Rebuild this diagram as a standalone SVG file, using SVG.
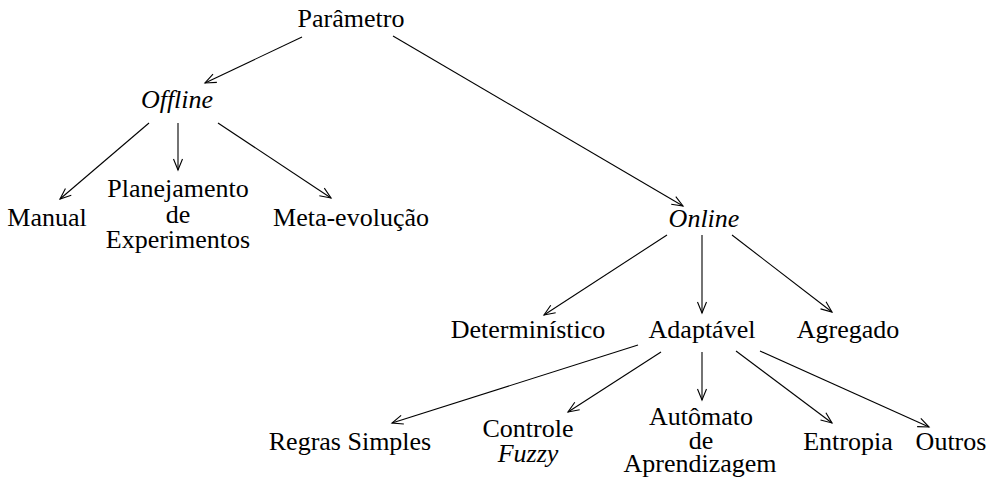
<svg xmlns="http://www.w3.org/2000/svg" width="997" height="481" viewBox="0 0 997 481">
<style>
text{font-family:"Liberation Serif","Times New Roman",serif;font-size:26px;fill:#000;text-anchor:middle}
.it{font-style:italic}
.c{stroke:#000;stroke-width:1.1;fill:none}
</style>
<defs>
<marker id="ah" markerUnits="userSpaceOnUse" markerWidth="16" markerHeight="12" viewBox="-12 -6 14 12" refX="0" refY="0" orient="auto">
<path d="M-11,-4.5 L0,0 L-11,4.5" fill="none" stroke="#000" stroke-width="1.1"/>
</marker>
</defs>
<rect width="997" height="481" fill="#fff"/>
<g id="connectors" class="c" marker-end="url(#ah)">
<line x1="302" y1="37" x2="205" y2="83"/>
<line x1="393" y1="36" x2="683" y2="206"/>
<line x1="149" y1="123" x2="60" y2="199"/>
<line x1="178" y1="123" x2="178" y2="170"/>
<line x1="218" y1="123" x2="331" y2="198"/>
<line x1="667" y1="235" x2="544" y2="315"/>
<line x1="702" y1="235" x2="702" y2="313"/>
<line x1="732" y1="235" x2="832" y2="312"/>
<line x1="638" y1="345" x2="392" y2="423"/>
<line x1="661" y1="352" x2="568" y2="412"/>
<line x1="702" y1="352" x2="702" y2="400"/>
<line x1="736" y1="351" x2="832" y2="423"/>
<line x1="760" y1="351" x2="929" y2="427"/>
</g>
<g id="parametro"><text x="351" y="27">Parâmetro</text></g>
<g id="offline"><text x="177" y="108" class="it">Offline</text></g>
<g id="manual"><text x="47" y="226">Manual</text></g>
<g id="planejamento"><text x="178" y="197">Planejamento</text><text x="178" y="223">de</text><text x="178" y="248">Experimentos</text></g>
<g id="meta"><text x="351" y="226">Meta-evolução</text></g>
<g id="online"><text x="704" y="227" class="it">Online</text></g>
<g id="deterministico"><text x="528" y="338">Determinístico</text></g>
<g id="adaptavel"><text x="702" y="338">Adaptável</text></g>
<g id="agregado"><text x="848" y="338">Agregado</text></g>
<g id="regras"><text x="350" y="450">Regras Simples</text></g>
<g id="controle"><text x="528" y="437">Controle</text><text x="528" y="462" class="it">Fuzzy</text></g>
<g id="automato"><text x="701" y="425">Autômato</text><text x="701" y="449">de</text><text x="700" y="472">Aprendizagem</text></g>
<g id="entropia"><text x="848" y="450">Entropia</text></g>
<g id="outros"><text x="951" y="450">Outros</text></g>
</svg>
